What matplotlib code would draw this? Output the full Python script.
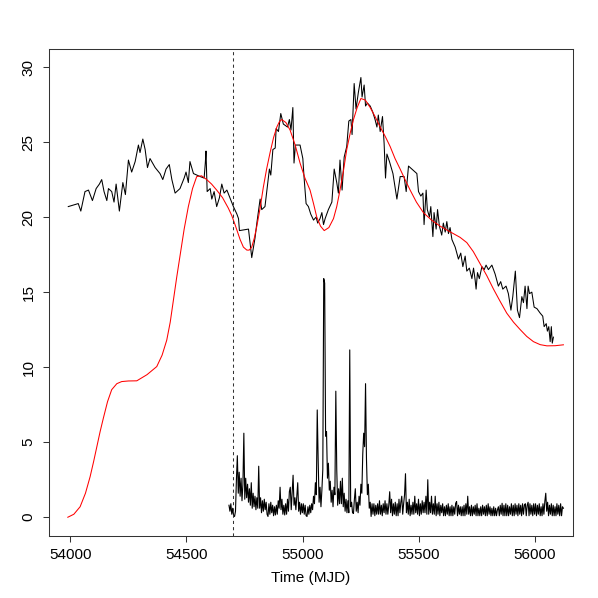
import matplotlib
matplotlib.use("Agg")
import matplotlib.pyplot as plt

plt.rcParams['font.family'] = ['Liberation Sans', 'DejaVu Sans']

# Upper black series (irregular sampling)
upper_t = [53991, 54034, 54045, 54063, 54078, 54095, 54111, 54125, 54135, 54145,
           54157, 54164, 54178, 54188, 54197, 54211, 54226, 54237, 54250, 54264,
           54279, 54293, 54300, 54312, 54322, 54332, 54343, 54365, 54386, 54398,
           54412, 54426, 54437, 54451, 54472, 54490, 54498, 54508, 54515, 54530,
           54559, 54576, 54581, 54584, 54589, 54602, 54609, 54619, 54630, 54642,
           54652, 54662, 54674, 54702, 54717, 54724, 54728, 54767, 54781, 54795,
           54803, 54817, 54824, 54838, 54848, 54857, 54863, 54872, 54882, 54886,
           54896, 54906, 54917, 54935, 54943, 54950, 54958, 54963, 54969, 54989,
           55001, 55006, 55015, 55025, 55035, 55047, 55058, 55065, 55075, 55083,
           55090, 55097, 55111, 55126, 55136, 55147, 55154, 55161, 55170, 55179,
           55190, 55199, 55208, 55213, 55222, 55230, 55240, 55251, 55256, 55265,
           55271, 55279, 55291, 55302, 55312, 55320, 55326, 55334, 55344, 55351,
           55357, 55363, 55374, 55389, 55406, 55420, 55437, 55446, 55456, 55492,
           55499, 55509, 55518, 55523, 55532, 55537, 55546, 55552, 55561, 55566,
           55575, 55581, 55589, 55599, 55606, 55614, 55621, 55628, 55635, 55643,
           55657, 55671, 55681, 55690, 55700, 55707, 55718, 55729, 55736, 55743,
           55747, 55753, 55761, 55772, 55782, 55790, 55800, 55815, 55829, 55843,
           55853, 55862, 55876, 55886, 55897, 55905, 55916, 55925, 55934, 55944,
           55951, 55958, 55966, 55971, 55977, 55987, 55997, 56009, 56023, 56034,
           56040, 56049, 56054, 56060, 56066, 56071, 56075, 56080]
upper_v = [20.7, 20.9, 20.4, 21.7, 21.8, 21.1, 21.9, 22.2, 22.5, 21.7,
           21.1, 21.9, 21.7, 21.0, 22.2, 20.4, 22.3, 21.5, 23.8, 23.0,
           23.7, 24.8, 24.3, 25.2, 24.5, 23.3, 23.9, 23.3, 22.9, 22.5,
           23.2, 23.5, 22.5, 21.6, 21.9, 22.6, 23.0, 22.3, 23.7, 22.9,
           22.7, 22.6, 23.6, 24.4, 21.7, 21.9, 21.2, 21.7, 20.7, 21.3,
           22.2, 21.6, 21.8, 20.7, 20.2, 19.9, 19.1, 19.2, 17.3, 18.6,
           19.6, 21.2, 20.5, 20.7, 22.0, 23.2, 22.8, 24.5, 24.6, 25.9,
           25.7, 26.9, 26.2, 26.0, 26.5, 25.8, 27.3, 23.6, 24.8, 24.8,
           23.9, 22.7, 20.9, 20.7, 20.2, 19.8, 20.0, 19.6, 19.9, 20.3,
           19.5, 19.9, 20.5, 21.0, 23.2, 22.3, 21.6, 23.8, 21.8, 24.0,
           24.7, 26.4, 26.5, 25.5, 28.9, 27.2, 28.3, 29.3, 28.0, 28.8,
           27.4, 27.6, 27.4, 27.0, 26.5, 26.0, 26.8, 25.7, 26.7, 24.9,
           22.6, 24.2, 23.7, 22.9, 21.2, 22.7, 22.7, 21.7, 23.4, 22.9,
           21.7, 21.4, 21.6, 19.5, 21.8, 20.5, 20.0, 20.7, 18.7, 20.3,
           19.2, 20.5, 19.4, 18.8, 19.6, 19.0, 19.7, 18.9, 19.3, 18.5,
           18.0, 17.2, 17.6, 16.7, 17.4, 16.4, 16.6, 15.9, 16.6, 15.8,
           15.2, 16.3, 15.9, 16.7, 16.5, 16.8, 16.5, 16.8, 16.2, 15.4,
           15.7, 15.2, 15.4, 14.9, 13.8, 14.7, 16.4, 13.8, 13.3, 14.7,
           14.3, 15.4, 13.9, 15.4, 14.9, 15.0, 14.0, 13.9, 13.6, 13.4,
           12.7, 12.9, 12.4, 12.7, 11.7, 12.7, 11.6, 12.0]

# Red model curve
model_t = [53989, 54015, 54042, 54065, 54085, 54100, 54114, 54128, 54142, 54160,
           54178, 54200, 54221, 54250, 54286, 54330, 54372, 54395, 54415, 54430,
           54444, 54458, 54472, 54490, 54508, 54526, 54544, 54565, 54587, 54608,
           54630, 54655, 54680, 54695, 54709, 54720, 54731, 54745, 54760, 54770,
           54781, 54792, 54803, 54817, 54831, 54845, 54860, 54875, 54889, 54900,
           54910, 54928, 54946, 54968, 54989, 55010, 55032, 55047, 55061, 55077,
           55093, 55113, 55133, 55147, 55161, 55176, 55190, 55205, 55219, 55235,
           55251, 55270, 55291, 55312, 55334, 55355, 55377, 55398, 55420, 55441,
           55463, 55490, 55520, 55555, 55592, 55620, 55649, 55678, 55707, 55735,
           55764, 55793, 55822, 55850, 55879, 55908, 55937, 55965, 55994, 56023,
           56052, 56088, 56123]
model_v = [0.0, 0.2, 0.7, 1.6, 2.7, 3.7, 4.7, 5.7, 6.6, 7.7,
           8.5, 8.9, 9.04, 9.08, 9.09, 9.5, 10.04, 10.8, 11.8, 13.0,
           14.5, 16.0, 17.4, 19.2, 20.7, 21.9, 22.7, 22.75, 22.5, 22.2,
           21.8, 21.3, 20.6, 20.1, 19.5, 19.0, 18.5, 18.0, 17.8, 17.8,
           18.0, 18.6, 19.4, 20.6, 22.0, 23.2, 24.3, 25.3, 26.0, 26.35,
           26.5, 26.3, 25.8, 24.8, 23.6, 22.6, 21.8, 20.9, 20.0, 19.4,
           19.1, 19.3, 19.9, 20.7, 21.8, 23.1, 24.5, 25.6, 26.5, 27.3,
           27.9, 27.8, 27.3, 26.7, 26.0, 25.4, 24.7, 23.9, 23.2, 22.5,
           21.8, 21.0, 20.3, 19.8, 19.4, 19.15, 18.9, 18.65, 18.3, 17.7,
           16.9, 16.1, 15.2, 14.4, 13.6, 13.0, 12.5, 12.05, 11.7, 11.5,
           11.42, 11.43, 11.49]

# Lower black series: regular 4-day cadence starting at MJD 54683
lower_t0 = 54683
lower_dt = 4
lower_v = [0.8, 0.4, 0.9, 0.2, 0.6, 0.1, 0.05, 0.4, 2.5, 4.1,
           1.6, 3.0, 1.4, 2.6, 1.1, 2.2, 5.6, 1.2, 2.6, 1.3,
           2.2, 1.0, 1.9, 0.8, 2.3, 0.6, 1.6, 0.7, 1.4, 0.5,
           1.3, 0.6, 3.4, 0.6, 1.3, 0.3, 1.1, 0.4, 1.2, 0.5,
           1.0, 0.2, 0.05, 0.9, 0.2, 1.0, 0.3, 0.8, 0.1, 0.7,
           0.15, 0.8, 0.2, 1.1, 0.6, 2.0, 0.5, 1.2, 0.2, 0.8,
           0.15, 0.9, 0.2, 1.2, 0.4, 1.7, 2.0, 0.5, 1.6, 2.8,
           0.8, 1.3, 0.5, 1.4, 2.3, 0.4, 1.0, 0.2, 0.9, 0.3,
           0.9, 0.2, 0.8, 0.1, 0.05, 0.7, 0.2, 0.8, 0.3, 0.9,
           0.5, 1.4, 0.9, 2.3, 1.5, 7.15, 3.8, 1.0, 2.0, 0.7,
           1.8, 3.2, 15.9, 15.6, 5.4, 5.7, 2.6, 3.6, 1.8, 2.4,
           1.0, 1.8, 0.7, 2.0, 1.5, 8.4, 3.2, 0.8, 1.9, 0.9,
           2.4, 0.9, 2.6, 0.7, 1.6, 0.4, 1.2, 0.3, 1.1, 0.3,
           11.15, 0.7, 1.0, 0.3, 0.25, 1.2, 1.9, 0.4, 1.0, 0.3,
           1.4, 0.8, 2.2, 1.6, 4.2, 5.6, 4.7, 8.9, 3.9, 1.5,
           2.2, 0.6, 1.0, 0.05, 0.9, 0.2, 0.9, 0.1, 0.8, 0.2,
           0.9, 0.2, 1.1, 0.2, 0.8, 0.1, 0.9, 0.3, 1.1, 0.2,
           0.9, 0.2, 0.8, 1.7, 0.3, 1.2, 0.1, 0.9, 0.2, 1.0,
           0.1, 0.9, 0.1, 1.2, 0.3, 1.0, 1.4, 0.2, 0.9, 1.5,
           2.9, 0.3, 1.0, 0.2, 1.2, 0.1, 0.8, 0.2, 1.0, 0.2,
           1.4, 0.3, 0.9, 0.2, 1.2, 0.1, 0.9, 0.2, 1.1, 0.3,
           1.0, 0.3, 1.4, 0.2, 2.5, 0.2, 1.0, 0.3, 1.4, 0.2,
           0.9, 0.2, 1.4, 0.1, 0.9, 0.2, 1.0, 0.1, 0.8, 0.3,
           0.9, 0.1, 0.7, 0.1, 0.8, 0.2, 0.9, 0.1, 0.7, 0.1,
           0.8, 0.1, 0.7, 0.2, 0.93, 1.05, 0.1, 0.8, 0.2, 0.7,
           0.1, 0.7, 0.1, 0.8, 0.1, 0.9, 0.2, 1.4, 0.2, 0.7,
           0.1, 0.8, 0.1, 0.7, 0.2, 0.8, 0.1, 0.9, 0.1, 0.6,
           0.1, 0.7, 0.1, 0.8, 0.2, 0.7, 0.1, 0.8, 0.1, 0.9,
           0.2, 0.7, 0.1, 0.6, 0.1, 0.7, 0.1, 0.6, 0.1, 0.5,
           0.7, 0.1, 0.8, 0.2, 0.93, 0.1, 0.8, 0.1, 0.9, 0.1,
           0.8, 0.1, 0.7, 0.2, 0.9, 0.1, 0.8, 0.1, 0.9, 0.2,
           0.8, 0.1, 0.9, 0.2, 0.8, 0.1, 0.9, 0.2, 0.8, 0.9,
           0.1, 0.8, 1.0, 0.1, 0.9, 0.2, 0.8, 0.1, 0.9, 0.2,
           0.9, 0.1, 0.8, 0.2, 0.9, 0.1, 0.7, 0.1, 0.9, 0.2,
           1.05, 1.6, 0.4, 1.0, 0.1, 0.8, 0.2, 0.9, 0.1, 0.8,
           0.1, 0.7, 0.1, 0.9, 0.2, 0.8, 0.1, 0.9, 0.1, 0.7,
           0.6]
lower_t = [lower_t0 + lower_dt * i for i in range(len(lower_v))]

trigger_t = 54702

x_ticks = [54000, 54500, 55000, 55500, 56000]
y_ticks = [0, 5, 10, 15, 20, 25, 30]
x_label = "Time (MJD)"

fig = plt.figure(figsize=(5.98, 5.98), dpi=100)
ax = fig.add_axes([49/598, 62/598, (572.7-49)/598, (536-49)/598])

ax.plot(upper_t, upper_v, color='black', lw=0.75)
ax.plot(model_t, model_v, color='#FF0000', lw=0.75)
ax.plot(lower_t, lower_v, color='black', lw=0.8)
ax.axvline(trigger_t, color='#333333', lw=0.75, linestyle=(0, (3, 3)))

ax.set_xlim(53908, 56163)
ax.set_ylim(-1.25, 31.2)
ax.set_xticks(x_ticks)
ax.set_yticks(y_ticks)
ax.set_xticklabels([str(v) for v in x_ticks])
ax.set_yticklabels([str(v) for v in y_ticks], rotation=90, va='center')
ax.tick_params(direction='out', length=4.3, width=0.75, labelsize=11, color='#333333')
ax.tick_params(axis='x', pad=4.0)
ax.tick_params(axis='y', pad=5.5)
for s in ax.spines.values():
    s.set_linewidth(0.75)
    s.set_color('#333333')
ax.set_xlabel(x_label, fontsize=11, labelpad=7)

fig.savefig("out.png", dpi=100)
